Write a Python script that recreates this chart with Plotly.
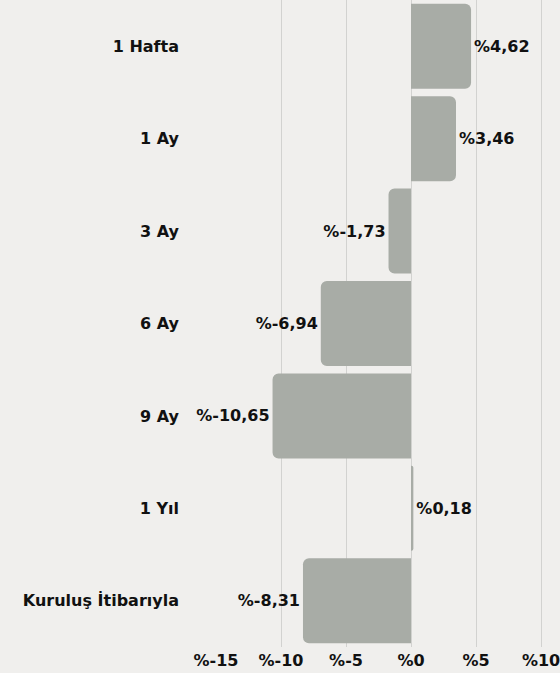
import plotly.graph_objects as go

categories = ["1 Hafta", "1 Ay", "3 Ay", "6 Ay", "9 Ay", "1 Yıl", "Kuruluş İtibarıyla"]
values = [4.62, 3.46, -1.73, -6.94, -10.65, 0.18, -8.31]
value_labels = ["%4,62", "%3,46", "%-1,73", "%-6,94", "%-10,65", "%0,18", "%-8,31"]
tick_vals = [-15, -10, -5, 0, 5, 10]
tick_text = ["%-15", "%-10", "%-5", "%0", "%5", "%10"]

font_family = "DejaVu Sans, sans-serif"

fig = go.Figure(go.Bar(
    x=values,
    y=categories,
    orientation="h",
    marker=dict(color="#a8aca6", line=dict(width=0)),
    text=value_labels,
    textposition="outside",
    textfont=dict(family=font_family, size=16, color="#111111", weight="bold"),
    cliponaxis=False,
))

fig.update_layout(
    width=560,
    height=673,
    margin=dict(l=216, r=0, t=0, b=26),
    paper_bgcolor="#f0efed",
    plot_bgcolor="#f0efed",
    bargap=0.08,
    barcornerradius=6,
    showlegend=False,
    font=dict(family=font_family, size=16, color="#111111", weight="bold"),
    xaxis=dict(
        range=[-15, 11.46],
        tickvals=tick_vals,
        ticktext=tick_text,
        showgrid=True,
        gridcolor="#d2d2d0",
        gridwidth=1,
        zeroline=True,
        zerolinecolor="#d2d2d0",
        zerolinewidth=1,
        showline=False,
        ticks="",
        ticklabelstandoff=2,
        ticklabeloverflow="allow",
        tickfont=dict(family=font_family, size=16, color="#111111", weight="bold"),
        fixedrange=True,
    ),
    yaxis=dict(
        categoryorder="array",
        categoryarray=categories[::-1],
        autorange=True,
        showgrid=False,
        zeroline=False,
        ticks="",
        ticklabelstandoff=36,
        tickfont=dict(family=font_family, size=16, color="#111111", weight="bold"),
        fixedrange=True,
    ),
)

fig.write_html(
    "out.html",
    config={"displayModeBar": False},
    post_script="document.body.style.margin='0';document.body.style.background='#f0efed';",
)
